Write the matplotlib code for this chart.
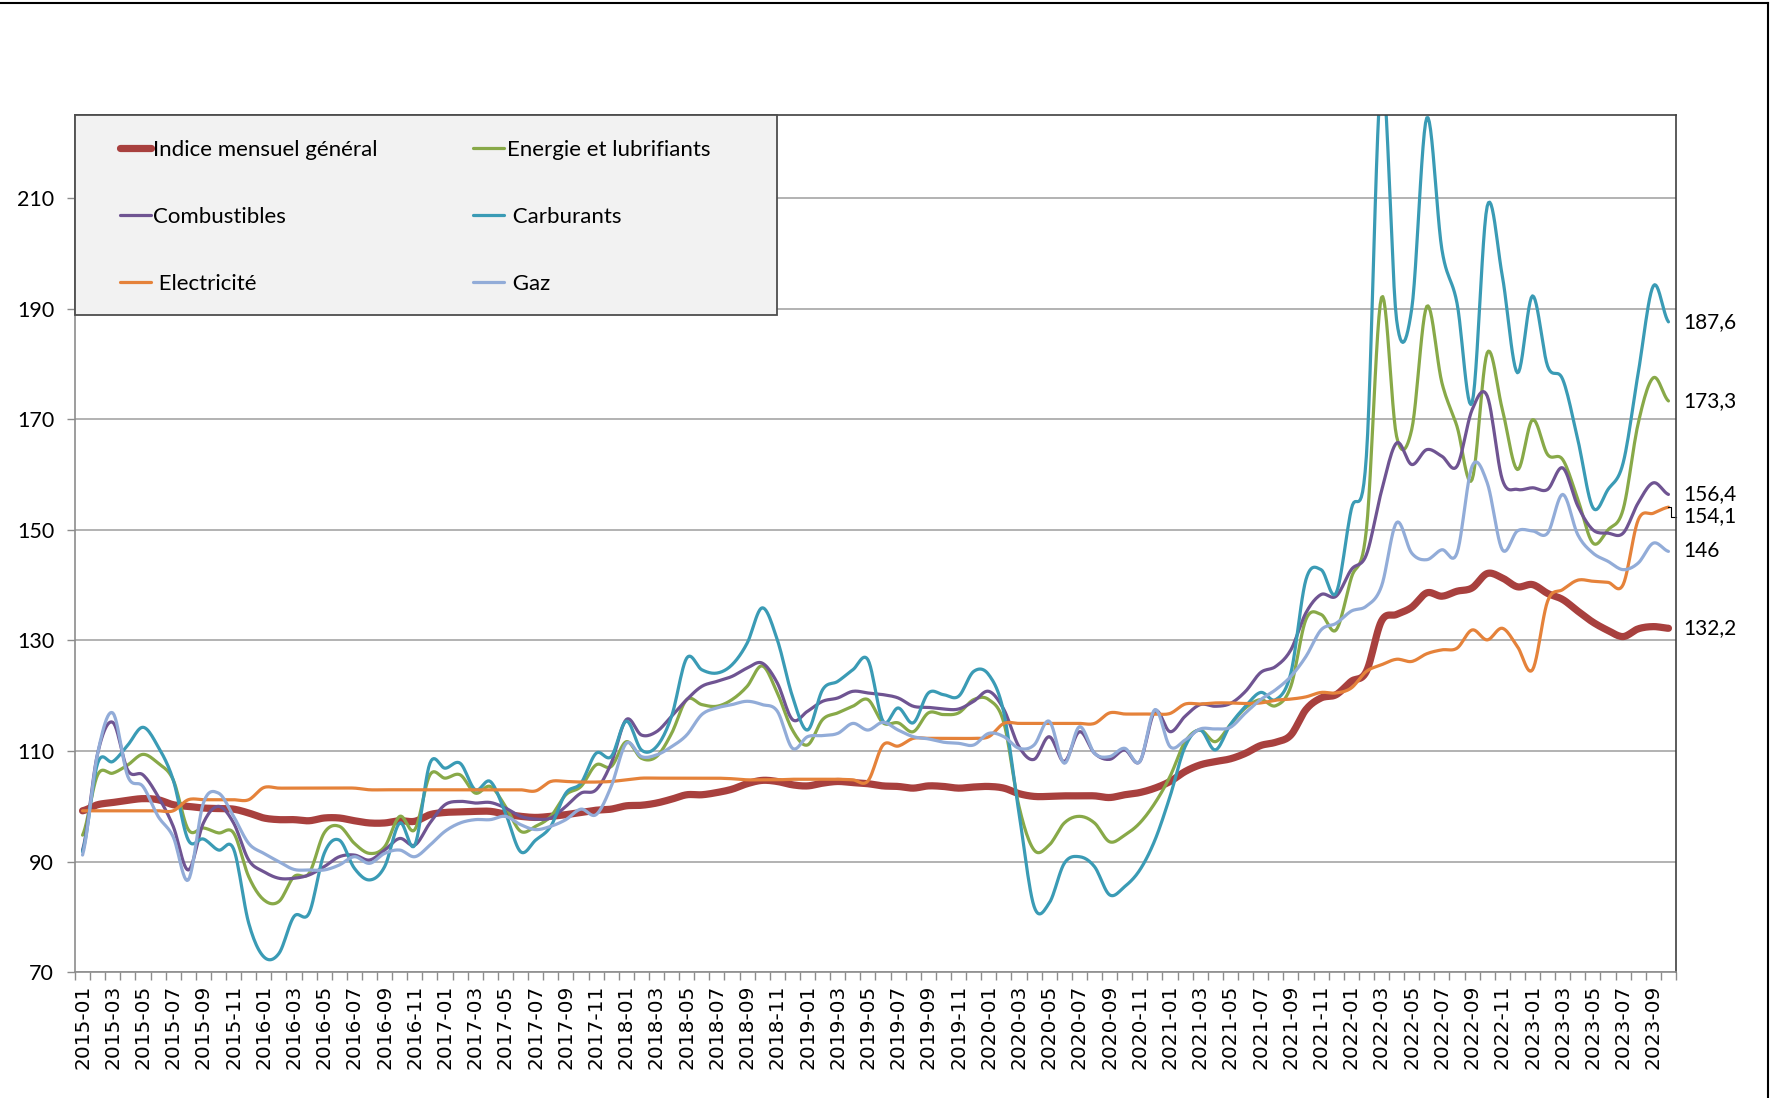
import numpy as np
import pandas as pd
import matplotlib
matplotlib.use("Agg")
import matplotlib.pyplot as plt
import matplotlib.transforms as mtransforms
from matplotlib.patches import Rectangle
from matplotlib.lines import Line2D

plt.rcParams['font.family'] = ['Lato', 'DejaVu Sans']

# monthly categories 2015-01 .. 2023-10
months = pd.period_range('2015-01', '2023-10', freq='M').strftime('%Y-%m').tolist()

indice = [99.2, 100.3, 100.7, 101.1, 101.4, 101.2, 100.3, 100.0, 99.7, 99.6, 99.5, 98.8,
          97.9, 97.6, 97.6, 97.4, 97.9, 97.9, 97.4, 97.0, 97.0, 97.4, 97.3, 98.5,
          98.9, 99.0, 99.1, 99.1, 98.6, 98.2, 98.0, 98.2, 98.5, 98.9, 99.3, 99.5,
          100.1, 100.2, 100.6, 101.3, 102.1, 102.1, 102.5, 103.1, 104.1, 104.7, 104.5, 103.9,
          103.7, 104.2, 104.5, 104.3, 104.1, 103.7, 103.6, 103.3, 103.7, 103.6, 103.3, 103.5,
          103.6, 103.3, 102.3, 101.8, 101.8, 101.9, 101.9, 101.9, 101.6, 102.1, 102.5, 103.3,
          104.5, 106.3, 107.5, 108.1, 108.6, 109.6, 111.0, 111.6, 112.9, 117.5, 119.6, 120.2,
          122.6, 124.4, 133.5, 134.7, 136.0, 138.6, 138.0, 138.9, 139.5, 142.1, 141.3, 139.7,
          140.1, 138.5, 137.4, 135.3, 133.3, 131.8, 130.7, 132.1, 132.5, 132.2]

energie = [94.8, 105.7, 106.0, 107.5, 109.4, 107.8, 104.8, 95.8, 96.1, 95.2, 95.2, 87.3,
           83.1, 82.8, 87.3, 87.9, 95.2, 96.4, 93.3, 91.5, 92.7, 98.2, 95.8, 105.7,
           105.1, 105.7, 102.4, 103.6, 100.0, 95.5, 96.4, 98.2, 102.1, 103.6, 107.5, 107.2,
           111.7, 108.7, 109.0, 113.2, 119.3, 118.4, 118.1, 119.3, 121.7, 125.4, 120.5, 113.8,
           111.1, 115.7, 116.9, 118.1, 119.3, 115.1, 115.1, 113.5, 116.9, 116.6, 116.9, 119.3,
           119.3, 115.1, 100.0, 92.1, 93.0, 97.0, 98.2, 97.0, 93.6, 94.8, 97.0, 100.6,
           105.4, 111.7, 113.8, 111.7, 114.8, 117.8, 119.3, 118.2, 121.7, 133.8, 134.7, 131.9,
           141.3, 150.0, 192.0, 166.9, 168.1, 190.4, 176.6, 168.7, 159.1, 182.0, 171.8, 160.9,
           169.9, 163.6, 162.7, 155.5, 147.6, 150.0, 153.7, 169.3, 177.5, 173.3]

combustibles = [92.1, 109.6, 115.2, 106.5, 105.7, 101.8, 96.4, 88.5, 97.0, 100.0, 97.0, 90.3,
                88.2, 87.0, 87.0, 87.6, 89.1, 90.9, 91.2, 90.3, 92.1, 94.2, 93.0, 97.0,
                100.3, 100.9, 100.6, 100.7, 99.7, 98.2, 97.7, 97.9, 100.0, 102.4, 103.0, 107.8,
                115.7, 112.9, 113.5, 116.3, 119.3, 121.7, 122.6, 123.5, 125.0, 125.9, 122.3, 115.7,
                117.2, 119.0, 119.6, 120.8, 120.5, 120.2, 119.6, 118.1, 117.9, 117.6, 117.6, 119.0,
                120.8, 117.5, 110.8, 108.5, 112.6, 108.1, 113.5, 109.6, 108.5, 110.2, 108.1, 117.2,
                113.5, 116.3, 118.4, 118.1, 118.6, 120.8, 124.2, 125.3, 128.3, 135.0, 138.3, 138.0,
                142.8, 145.5, 157.0, 165.7, 161.8, 164.5, 163.3, 161.5, 171.7, 174.2, 159.1, 157.3,
                157.6, 157.3, 161.2, 154.3, 150.0, 149.4, 149.4, 154.9, 158.5, 156.4]

carburants = [91.8, 107.8, 108.1, 111.1, 114.3, 110.8, 104.8, 93.9, 94.1, 92.1, 92.3, 78.9,
              72.8, 73.4, 80.1, 80.7, 91.5, 93.9, 88.8, 86.7, 89.1, 97.0, 93.0, 107.8,
              106.9, 107.8, 103.0, 104.5, 98.8, 91.8, 93.9, 96.4, 102.4, 104.2, 109.6, 109.0,
              115.4, 110.2, 110.8, 116.3, 126.8, 124.7, 124.1, 125.6, 129.5, 135.9, 130.1, 119.9,
              113.8, 121.1, 122.6, 124.7, 126.5, 115.4, 117.8, 115.1, 120.5, 120.2, 119.9, 124.4,
              123.8, 116.9, 98.8, 81.9, 82.5, 89.7, 90.9, 89.1, 84.0, 85.5, 88.5, 93.9,
              101.8, 110.8, 113.8, 110.2, 114.8, 118.1, 120.6, 119.3, 124.1, 141.0, 142.8, 138.6,
              153.7, 163.3, 232.0, 188.0, 189.9, 224.5, 200.7, 191.0, 173.0, 208.5, 195.9, 178.4,
              192.3, 179.6, 177.2, 166.3, 154.0, 157.3, 162.1, 178.4, 194.1, 187.6]

electricite = [99.2, 99.2, 99.2, 99.2, 99.2, 99.2, 99.2, 101.2, 101.2, 101.2, 101.2, 101.2,
               103.4, 103.3, 103.3, 103.3, 103.3, 103.3, 103.3, 103.0, 103.0, 103.0, 103.0, 103.0,
               103.0, 103.0, 103.0, 103.0, 103.0, 103.0, 102.8, 104.5, 104.5, 104.4, 104.4, 104.5,
               104.8, 105.1, 105.1, 105.1, 105.1, 105.1, 105.1, 105.0, 104.8, 104.8, 104.8, 104.9,
               104.9, 104.9, 104.9, 104.8, 104.6, 111.1, 110.9, 112.3, 112.3, 112.3, 112.3, 112.3,
               112.6, 115.0, 115.0, 115.0, 115.0, 115.0, 115.0, 115.0, 116.9, 116.7, 116.7, 116.7,
               116.8, 118.5, 118.5, 118.7, 118.7, 118.6, 118.7, 119.2, 119.4, 119.8, 120.6, 120.5,
               121.4, 124.4, 125.6, 126.6, 126.2, 127.6, 128.3, 128.6, 131.9, 130.1, 132.2, 128.9,
               124.7, 137.1, 139.2, 140.9, 140.7, 140.5, 140.1, 151.8, 153.0, 154.1]

gaz = [91.2, 109.6, 116.9, 105.4, 103.6, 98.2, 94.5, 86.7, 100.6, 102.4, 98.2, 93.3,
       91.5, 90.0, 88.6, 88.5, 88.5, 89.4, 90.9, 89.7, 91.5, 92.1, 90.9, 93.0,
       95.5, 97.0, 97.6, 97.6, 98.2, 96.7, 95.8, 96.4, 97.6, 99.5, 98.5, 103.6,
       111.4, 109.0, 109.3, 110.8, 112.9, 116.6, 117.8, 118.4, 119.0, 118.4, 117.2, 110.5,
       112.6, 112.8, 113.2, 115.0, 113.8, 115.2, 113.8, 112.6, 112.2, 111.6, 111.4, 111.1,
       113.2, 112.6, 110.5, 111.1, 115.4, 107.8, 114.4, 109.6, 109.0, 110.5, 108.1, 117.5,
       110.8, 112.0, 114.0, 114.0, 114.3, 116.9, 119.3, 121.1, 123.5, 127.1, 131.9, 133.1,
       135.3, 136.2, 139.8, 151.3, 145.8, 144.6, 146.4, 145.8, 161.5, 158.5, 146.4, 149.8,
       149.8, 149.4, 156.4, 149.1, 145.8, 144.3, 142.8, 144.0, 147.6, 146.1]

series = [
    ("Indice mensuel général", indice, '#a8403e', 5.2),
    ("Energie et lubrifiants", energie, '#88a948', 2.3),
    ("Combustibles", combustibles, '#6f5492', 2.3),
    (" Carburants", carburants, '#3a9bb5', 2.3),
    (" Electricité", electricite, '#e5823a', 2.3),
    (" Gaz", gaz, '#92acd8', 2.3),
]
end_labels = ["187,6", "173,3", "156,4", "154,1", "146", "132,2"]
end_series = [carburants, energie, combustibles, electricite, gaz, indice]


def smooth(y, n=12):
    # Catmull-Rom curve through the monthly points (like Excel smoothed lines)
    y = np.asarray(y, float)
    p = np.concatenate([[y[0]], y, [y[-1]]])
    t = np.linspace(0, 1, n, endpoint=False)
    xs, ys = [], []
    for k in range(len(y) - 1):
        p0, p1, p2, p3 = p[k], p[k + 1], p[k + 2], p[k + 3]
        seg = 0.5 * (2 * p1 + (p2 - p0) * t + (2 * p0 - 5 * p1 + 4 * p2 - p3) * t ** 2
                     + (-p0 + 3 * p1 - 3 * p2 + p3) * t ** 3)
        xs.append(k + t)
        ys.append(seg)
    xs.append([len(y) - 1])
    ys.append([y[-1]])
    return np.concatenate(xs), np.concatenate(ys)


W, H = 1774, 1098
fig = plt.figure(figsize=(W / 100, H / 100), dpi=100)
ax = fig.add_axes([75 / W, 125.7 / H, 1601 / W, 857.3 / H])

handles = []
for name, vals, col, lw in series:
    xs, ys = smooth(vals)
    h, = ax.plot(xs, ys, color=col, lw=lw, solid_capstyle='round', label=name)
    handles.append(h)

ax.set_xlim(-0.5, len(months) - 0.5)
ax.set_ylim(70, 225)
ax.set_yticks(range(70, 211, 20))
ax.yaxis.grid(True, color='#a6a6a6', lw=1.2)
ax.set_axisbelow(True)

ax.set_xticks(range(0, len(months), 2))
ax.set_xticklabels(months[::2], rotation=90, family='DejaVu Sans', fontsize=14.5)
ax.set_xticks(np.arange(-0.5, len(months), 1), minor=True)
ax.tick_params(axis='x', which='major', length=0, pad=9)
ax.tick_params(axis='x', which='minor', length=6, width=1, color='#8c8c8c')
ax.tick_params(axis='y', length=6, width=1, color='#8c8c8c', pad=9, labelsize=15.5)

for s in ['left', 'bottom']:
    ax.spines[s].set_color('#8c8c8c')
    ax.spines[s].set_linewidth(1.2)
for s in ['top', 'right']:
    ax.spines[s].set_color('#3f3f3f')
    ax.spines[s].set_linewidth(1.2)

# end-of-series value labels
trans = mtransforms.blended_transform_factory(ax.transAxes, ax.transData)
for txt, vals in zip(end_labels, end_series):
    v = vals[-1]
    dy = -1.7 if txt == "154,1" else 0
    ax.annotate(txt, xy=(1, v + dy), xycoords=trans, xytext=(5, 0),
                textcoords='offset points', va='center', ha='left', fontsize=15)
    if dy:
        last = len(vals) - 1
        ax.plot([last, last + 0.2, last + 0.2, last + 0.5], [v, v, v + dy, v + dy],
                color='black', lw=0.8, clip_on=False)

# legend box
ax.add_patch(Rectangle((0, 0.7665), 0.4385, 0.2335, transform=ax.transAxes,
                       facecolor='#f2f2f2', edgecolor='#4d4d4d', lw=1.3, zorder=5,
                       clip_on=False))
order = [0, 2, 4, 1, 3, 5]
leg = ax.legend([handles[i] for i in order], [series[i][0] for i in order],
                ncol=2, loc='upper left', bbox_to_anchor=(0.028, 0.971),
                frameon=False, fontsize=16, handlelength=1.4, handletextpad=0.1,
                labelspacing=2.12, columnspacing=4.3, borderpad=0, borderaxespad=0)
leg.set_zorder(6)

# outer frame
fig.add_artist(Line2D([0, 1768 / W], [1 - 3 / H, 1 - 3 / H], transform=fig.transFigure,
                      color='black', lw=1.5))
fig.add_artist(Line2D([1768 / W, 1768 / W], [0, 1 - 3 / H], transform=fig.transFigure,
                      color='black', lw=1.5))

fig.savefig('out.png', dpi=100)
plt.close(fig)
